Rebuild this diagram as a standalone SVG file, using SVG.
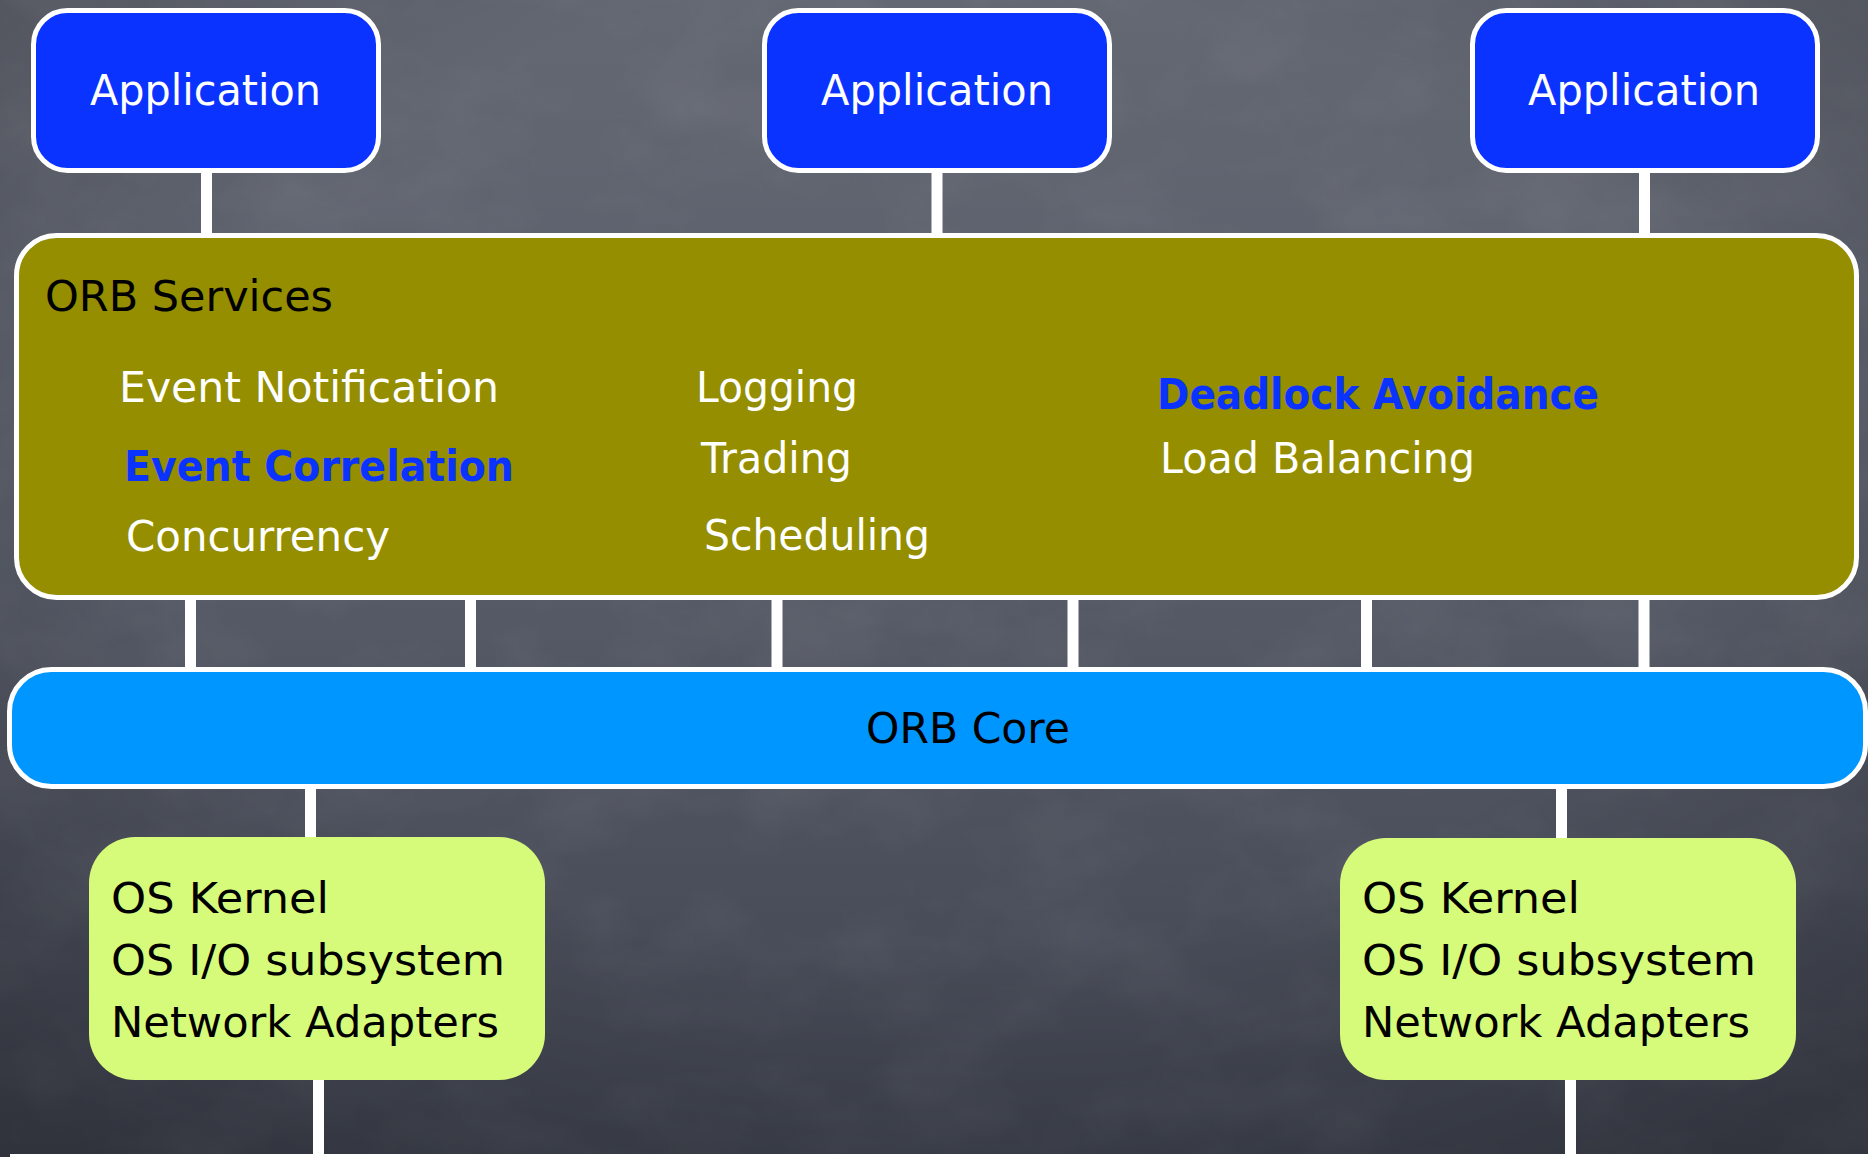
<svg xmlns="http://www.w3.org/2000/svg" width="1868" height="1157" viewBox="0 0 1868 1157">
  <defs>
    <linearGradient id="slate" x1="0" y1="0" x2="0" y2="1">
      <stop offset="0" stop-color="#646873"/>
      <stop offset="0.45" stop-color="#595d69"/>
      <stop offset="1" stop-color="#404450"/>
    </linearGradient>
    <radialGradient id="vignette" cx="0.5" cy="0.4" r="0.75">
      <stop offset="0.55" stop-color="#000" stop-opacity="0"/>
      <stop offset="1" stop-color="#000" stop-opacity="0.25"/>
    </radialGradient>
    <filter id="chalk" x="0" y="0" width="100%" height="100%">
      <feTurbulence type="fractalNoise" baseFrequency="0.008 0.012" numOctaves="4" seed="7" result="n"/>
      <feColorMatrix in="n" type="matrix" values="0 0 0 0 1  0 0 0 0 1  0 0 0 0 1  0 0 0 0.5 -0.2"/>
    </filter>
    <style>
      .bg-grain { filter: url(#chalk); opacity: 0.2; }
      .app { fill: #0a33ff; stroke: #ffffff; stroke-width: 5; }
      .svc { fill: #948e00; stroke: #ffffff; stroke-width: 5; }
      .core { fill: #0096ff; stroke: #ffffff; stroke-width: 5; }
      .os { fill: #d6fa7a; }
      .wire { fill: #ffffff; }
      text { font-family: "DejaVu Sans", "Noto Sans", sans-serif; font-size: 42px; }
      .w { fill: #ffffff; }
      .k { fill: #000000; }
      .hl { fill: #0a33ff; font-weight: bold; }
    </style>
  </defs>

  <!-- chalkboard backdrop -->
  <rect width="1868" height="1157" fill="url(#slate)"/>
  <rect class="bg-grain" width="1868" height="1157"/>
  <rect width="1868" height="1157" fill="url(#vignette)"/>

  <!-- connectors: vertical white bars and the bottom bus -->
  <g id="connectors">
    <rect class="wire" x="201" y="170" width="11" height="66"/>
    <rect class="wire" x="931.5" y="170" width="11" height="66"/>
    <rect class="wire" x="1639" y="170" width="11" height="66"/>

    <rect class="wire" x="185" y="597" width="11" height="73"/>
    <rect class="wire" x="465" y="597" width="11" height="73"/>
    <rect class="wire" x="771.5" y="597" width="11" height="73"/>
    <rect class="wire" x="1067.5" y="597" width="11" height="73"/>
    <rect class="wire" x="1361" y="597" width="11" height="73"/>
    <rect class="wire" x="1638.5" y="597" width="11" height="73"/>

    <rect class="wire" x="305" y="786" width="11" height="52"/>
    <rect class="wire" x="1556" y="786" width="11" height="52"/>

    <rect class="wire" x="313" y="1078" width="11" height="79"/>
    <rect class="wire" x="1565" y="1078" width="11" height="79"/>
    <rect class="wire" x="10" y="1154" width="1858" height="3"/>
  </g>

  <!-- application layer -->
  <g id="app-1">
    <rect class="app" x="33.5" y="10.5" width="345" height="160" rx="34"/>
    <text class="w" x="90" y="105" textLength="231" lengthAdjust="spacingAndGlyphs">Application</text>
  </g>
  <g id="app-2">
    <rect class="app" x="764.5" y="10.5" width="345" height="160" rx="34"/>
    <text class="w" x="821" y="105" textLength="232" lengthAdjust="spacingAndGlyphs">Application</text>
  </g>
  <g id="app-3">
    <rect class="app" x="1472.5" y="10.5" width="345" height="160" rx="34"/>
    <text class="w" x="1528" y="105" textLength="232" lengthAdjust="spacingAndGlyphs">Application</text>
  </g>

  <!-- ORB services -->
  <g id="orb-services">
    <rect class="svc" x="16.5" y="235.5" width="1840" height="362" rx="40"/>
    <text class="k" x="45" y="311" textLength="288" lengthAdjust="spacingAndGlyphs">ORB Services</text>
    <text class="w" x="119" y="402" textLength="380" lengthAdjust="spacingAndGlyphs">Event Notification</text>
    <text class="hl" x="124" y="481" textLength="390" lengthAdjust="spacingAndGlyphs">Event Correlation</text>
    <text class="w" x="126" y="551" textLength="264" lengthAdjust="spacingAndGlyphs">Concurrency</text>
    <text class="w" x="696" y="402" textLength="162" lengthAdjust="spacingAndGlyphs">Logging</text>
    <text class="w" x="701" y="473" textLength="151" lengthAdjust="spacingAndGlyphs">Trading</text>
    <text class="w" x="704" y="550" textLength="226" lengthAdjust="spacingAndGlyphs">Scheduling</text>
    <text class="hl" x="1157" y="409" textLength="442" lengthAdjust="spacingAndGlyphs">Deadlock Avoidance</text>
    <text class="w" x="1160" y="473" textLength="315" lengthAdjust="spacingAndGlyphs">Load Balancing</text>
  </g>

  <!-- ORB core -->
  <g id="orb-core">
    <rect class="core" x="9.5" y="669.5" width="1856" height="117" rx="42"/>
    <text class="k" x="866" y="743" textLength="204" lengthAdjust="spacingAndGlyphs">ORB Core</text>
  </g>

  <!-- operating system hosts -->
  <g id="os-left">
    <rect class="os" x="89" y="837" width="456" height="243" rx="46"/>
    <text class="k" x="111" y="913" textLength="218" lengthAdjust="spacingAndGlyphs">OS Kernel</text>
    <text class="k" x="111" y="975" textLength="394" lengthAdjust="spacingAndGlyphs">OS I/O subsystem</text>
    <text class="k" x="111" y="1037" textLength="388" lengthAdjust="spacingAndGlyphs">Network Adapters</text>
  </g>
  <g id="os-right">
    <rect class="os" x="1340" y="838" width="456" height="242" rx="46"/>
    <text class="k" x="1362" y="913" textLength="218" lengthAdjust="spacingAndGlyphs">OS Kernel</text>
    <text class="k" x="1362" y="975" textLength="394" lengthAdjust="spacingAndGlyphs">OS I/O subsystem</text>
    <text class="k" x="1362" y="1037" textLength="388" lengthAdjust="spacingAndGlyphs">Network Adapters</text>
  </g>
</svg>
